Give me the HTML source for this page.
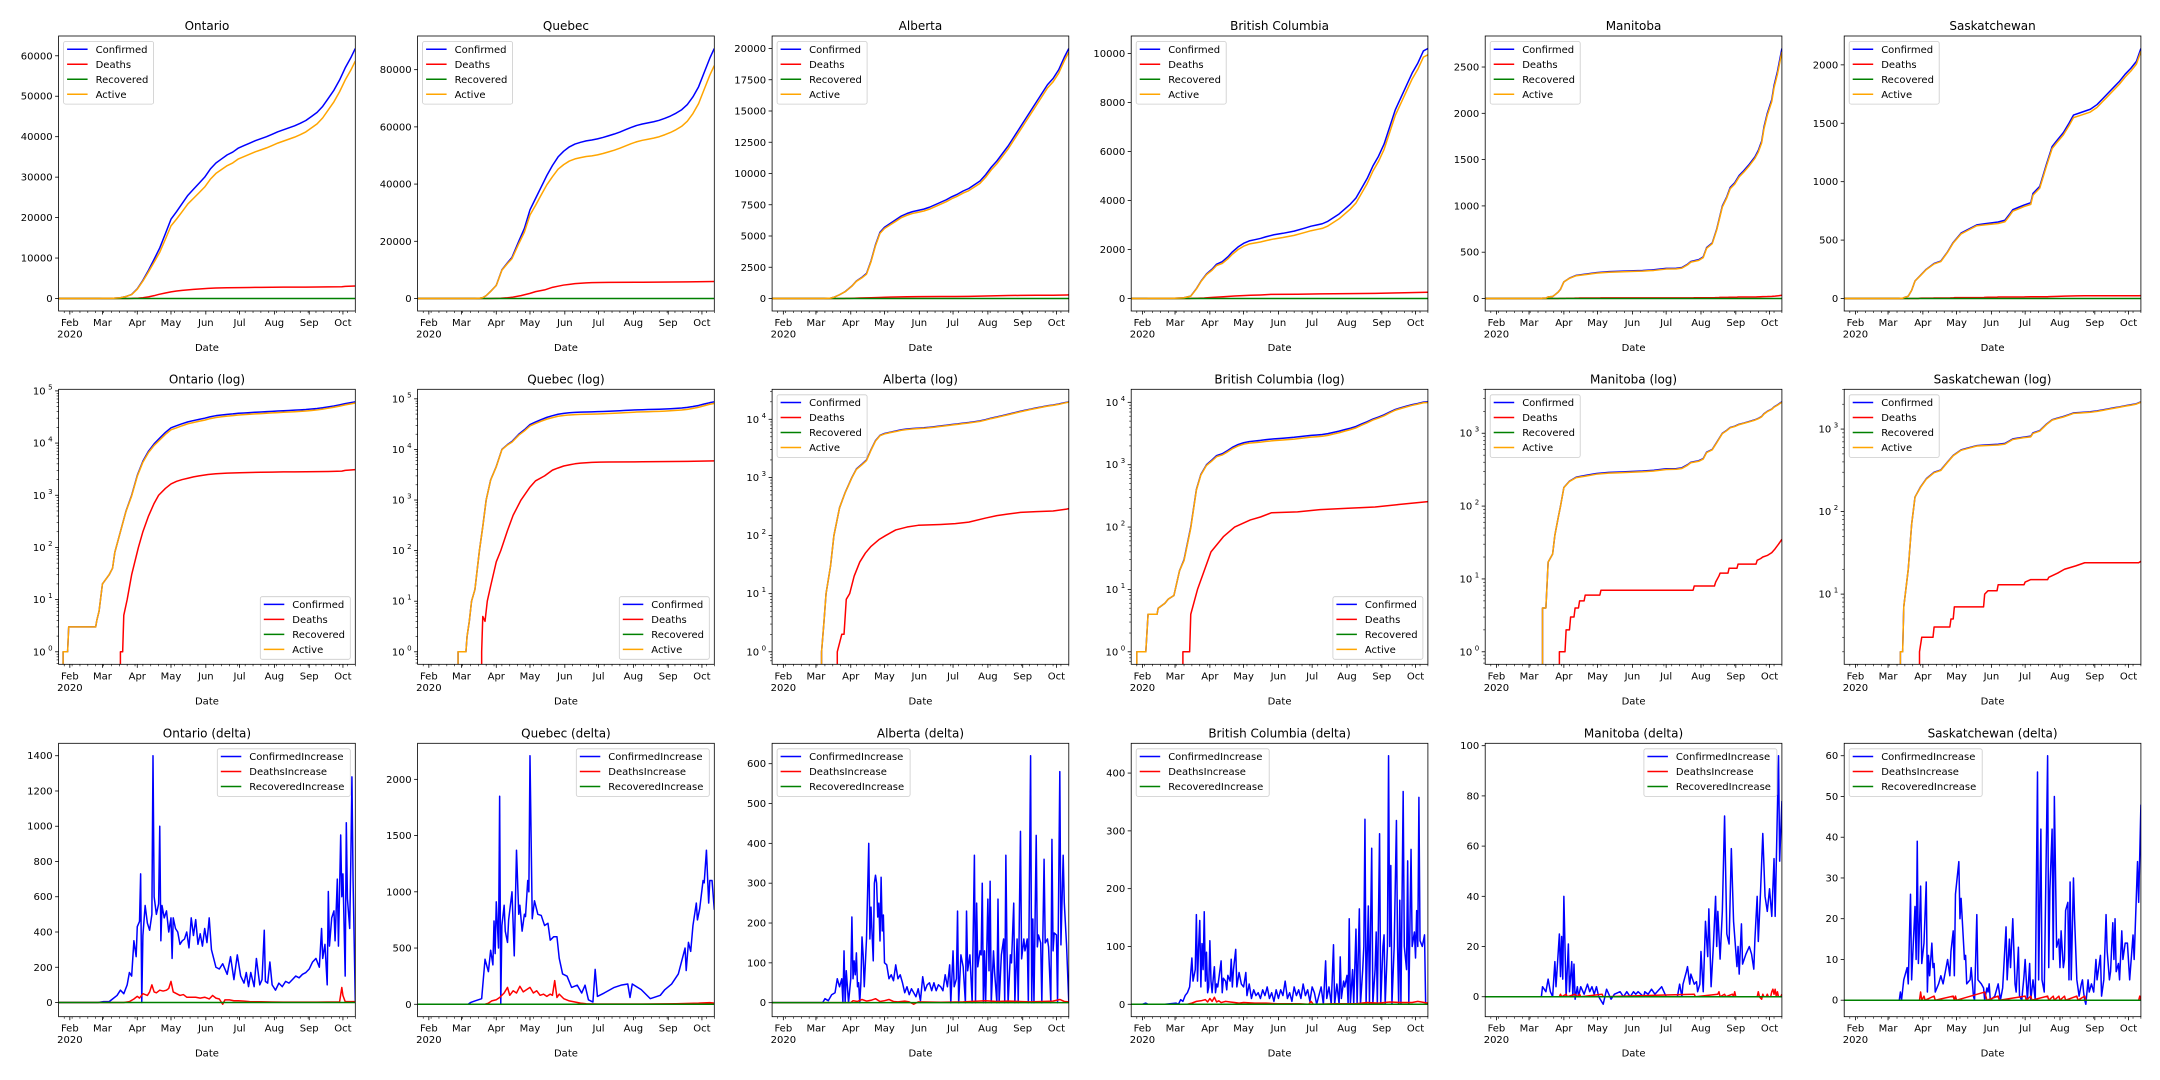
<!DOCTYPE html>
<html><head><meta charset="utf-8"><title>Canada COVID-19 provinces</title>
<style>
html,body{margin:0;padding:0;background:#fff;width:2160px;height:1080px;overflow:hidden;}
svg{display:block;font-family:"DejaVu Sans","Liberation Sans",sans-serif;}
</style></head>
<body>
<svg id="chart" xmlns="http://www.w3.org/2000/svg" width="2160" height="1080" viewBox="0 0 2160 1080">
<rect x="0" y="0" width="2160" height="1080" fill="#ffffff"/>
</svg>
<script>
// ---------- data (day index 0 = 2020-01-22) ----------
const monthDays = [10,39,70,100,131,161,192,223,253];
const monthLabels = ["Feb","Mar","Apr","May","Jun","Jul","Aug","Sep","Oct"];
const provinces = ["Ontario","Quebec","Alberta","British Columbia","Manitoba","Saskatchewan"];
const cumLegend = ["Confirmed","Deaths","Recovered","Active"];
const deltaLegend = ["ConfirmedIncrease","DeathsIncrease","RecoveredIncrease"];

const ontConf = [[0,0],[3,0],[4,1],[8,1],[9,3],[33,3],[34,4],[36,6],[39,20],[45,30],[48,40],[50,80],[55,200],[60,500],[65,1000],[70,2400],[75,4500],[80,7000],[85,9700],[90,12500],[95,16000],[100,19600],[105,21500],[110,23500],[115,25500],[120,27000],[125,28500],[130,30000],[135,32000],[140,33500],[145,34500],[150,35500],[155,36200],[160,37200],[165,37800],[170,38400],[175,39000],[180,39500],[185,40000],[190,40600],[195,41200],[200,41700],[205,42200],[210,42700],[215,43300],[220,44000],[225,45000],[230,46000],[235,47500],[240,49500],[245,51500],[250,54000],[255,57000],[260,59500],[264,61800]];
const ontDeaths = [[0,0],[54,0],[55,1],[57,1],[58,5],[61,10],[65,30],[71,100],[75,200],[80,400],[85,700],[89,1000],[95,1350],[100,1650],[105,1850],[110,2000],[115,2120],[120,2250],[125,2350],[133,2500],[140,2580],[150,2660],[161,2700],[170,2730],[180,2760],[190,2780],[200,2800],[210,2810],[220,2820],[230,2840],[240,2860],[252,2900],[255,3000],[264,3100]];
const queConf = [[0,0],[35,0],[36,1],[43,1],[44,2],[46,4],[48,10],[51,17],[55,100],[58,300],[61,1000],[65,2500],[70,4600],[75,10000],[80,12500],[84,14400],[90,20000],[95,24500],[100,31000],[105,35000],[110,39000],[115,43000],[120,46500],[125,49500],[130,51500],[135,53000],[140,54000],[145,54600],[150,55100],[155,55400],[160,55800],[165,56300],[170,56900],[175,57500],[180,58200],[185,59000],[190,59800],[195,60500],[200,61000],[205,61400],[210,61800],[215,62300],[220,63000],[225,63800],[230,64800],[235,66000],[240,67800],[245,70500],[250,74000],[255,79000],[260,84000],[264,87400]];
const queDeaths = [[0,0],[56,0],[57,1],[58,5],[60,4],[62,10],[65,20],[70,60],[74,100],[80,250],[85,500],[92,1000],[100,1800],[105,2400],[113,3000],[120,3900],[125,4300],[130,4700],[136,5000],[140,5200],[145,5350],[150,5450],[155,5550],[162,5600],[170,5650],[200,5700],[240,5800],[264,5950]];
const albConf = [[0,0],[43,0],[44,1],[46,3],[48,10],[52,30],[55,100],[60,300],[65,550],[71,1000],[75,1400],[80,1700],[84,2000],[88,3000],[92,4300],[96,5300],[100,5700],[105,6000],[110,6300],[115,6600],[120,6800],[125,6950],[130,7050],[135,7150],[140,7300],[145,7500],[150,7700],[155,7900],[160,8150],[165,8350],[170,8600],[175,8800],[180,9100],[185,9400],[190,9900],[195,10500],[200,11000],[205,11600],[210,12200],[215,12900],[220,13600],[225,14300],[230,15000],[235,15700],[240,16400],[245,17100],[250,17600],[255,18300],[260,19300],[264,20000]];
const albDeaths = [[0,0],[57,0],[58,1],[62,2],[64,2],[66,8],[69,10],[73,20],[78,35],[83,50],[88,65],[95,85],[101,100],[110,125],[120,140],[130,150],[150,155],[163,160],[175,170],[190,200],[200,220],[210,235],[221,250],[235,258],[250,265],[262,285],[264,290]];
const bcConf = [[0,0],[4,0],[5,1],[13,1],[14,2],[15,4],[23,4],[24,5],[30,6],[33,7],[38,8],[43,20],[47,30],[53,100],[58,400],[62,700],[67,1000],[72,1200],[76,1400],[81,1500],[86,1700],[90,1900],[95,2100],[100,2250],[105,2350],[110,2400],[115,2450],[120,2520],[127,2600],[135,2660],[145,2750],[155,2880],[160,2950],[165,3000],[170,3050],[175,3150],[180,3300],[185,3450],[190,3650],[195,3850],[200,4100],[205,4500],[210,4900],[215,5400],[220,5800],[225,6300],[230,7000],[235,7700],[240,8200],[245,8700],[250,9200],[255,9600],[260,10100],[264,10200]];
const bcDeaths = [[0,0],[45,0],[46,1],[52,1],[53,4],[59,10],[65,20],[71,40],[82,70],[92,100],[106,130],[115,145],[125,170],[148,175],[168,190],[193,200],[217,210],[238,230],[264,256]];
const manConf = [[0,0],[50,0],[51,4],[54,4],[56,17],[60,22],[62,40],[65,70],[67,100],[70,180],[75,220],[81,250],[90,265],[99,280],[110,290],[120,294],[132,300],[140,303],[150,310],[161,325],[170,327],[175,335],[180,370],[183,400],[190,420],[194,450],[197,550],[202,600],[206,750],[211,1000],[215,1100],[218,1200],[222,1250],[226,1330],[230,1380],[235,1450],[240,1530],[243,1600],[246,1700],[248,1850],[251,2000],[255,2150],[257,2300],[260,2450],[264,2700]];
const manDeaths = [[0,0],[65,0],[66,1],[71,1],[72,2],[75,2],[76,3],[79,3],[80,4],[83,4],[84,5],[88,5],[89,6],[102,6],[103,7],[185,7],[186,8],[204,8],[205,9],[208,11],[209,12],[216,12],[217,14],[224,14],[225,16],[241,16],[242,18],[245,19],[247,20],[251,21],[255,23],[258,26],[261,30],[264,35]];
const saskConf = [[0,0],[49,0],[50,2],[52,2],[53,7],[57,20],[60,70],[63,150],[68,200],[73,250],[80,300],[86,320],[92,400],[97,480],[104,560],[110,590],[118,630],[125,640],[137,655],[143,670],[147,720],[150,760],[155,780],[160,800],[166,820],[168,900],[174,960],[180,1150],[185,1300],[189,1350],[195,1420],[200,1500],[204,1570],[210,1590],[219,1620],[225,1660],[230,1710],[235,1760],[240,1810],[245,1860],[250,1920],[255,1970],[260,2030],[264,2140]];
const saskDeaths = [[0,0],[66,0],[67,2],[69,3],[79,3],[80,4],[94,4],[95,5],[97,5],[98,7],[124,7],[125,10],[128,11],[136,11],[137,13],[160,13],[161,14],[166,15],[181,15],[182,16],[190,18],[196,20],[206,22],[214,24],[262,24],[264,25]];
const recoveredZero = [[0,0],[264,0]];

const ontConfInc = [[0,0],[35,0],[40,5],[45,5],[48,20],[52,40],[55,70],[58,50],[61,100],[63,170],[65,150],[67,350],[69,260],[70,430],[72,460],[73,730],[74,0],[75,380],[77,550],[79,450],[81,410],[83,500],[84,1400],[85,600],[87,500],[89,560],[90,1000],[91,350],[92,550],[94,480],[96,520],[98,400],[100,480],[101,250],[102,480],[104,420],[106,400],[108,330],[110,350],[112,360],[114,400],[116,310],[118,480],[120,380],[122,470],[124,330],[126,390],[128,320],[130,420],[132,340],[134,480],[136,300],[138,250],[140,200],[143,190],[146,220],[150,160],[153,260],[156,130],[159,270],[162,150],[165,110],[167,170],[169,90],[171,170],[174,90],[176,250],[179,100],[181,130],[183,410],[184,120],[186,110],[188,230],[190,100],[193,70],[196,110],[199,90],[202,120],[205,110],[208,130],[211,150],[214,140],[217,160],[220,170],[223,190],[226,230],[229,250],[232,200],[234,420],[235,250],[237,330],[239,100],[240,630],[241,320],[243,480],[245,520],[246,350],[248,700],[249,320],[251,950],[252,600],[253,730],[255,150],[256,1020],[257,590],[259,420],[260,800],[261,1280],[262,700],[264,0]];
const ontDeathInc = [[0,0],[58,0],[63,5],[67,20],[70,35],[72,25],[75,50],[79,40],[81,60],[83,100],[85,60],[87,55],[90,70],[93,65],[96,70],[98,80],[100,120],[102,60],[105,50],[108,40],[111,45],[114,30],[118,30],[122,30],[126,25],[130,30],[134,20],[137,40],[140,25],[143,20],[146,-10],[148,15],[152,15],[156,10],[160,10],[165,8],[170,5],[180,4],[190,3],[200,2],[230,2],[240,3],[250,3],[252,85],[253,40],[255,5],[264,5]];
const queConfInc = [[0,0],[45,0],[47,15],[51,30],[57,50],[60,400],[63,290],[65,480],[67,350],[68,740],[69,450],[70,910],[72,500],[73,1850],[74,0],[75,700],[77,880],[78,650],[80,550],[81,750],[84,1000],[86,430],[88,1370],[90,800],[91,880],[93,650],[95,800],[96,780],[98,1100],[99,1000],[100,2210],[102,760],[104,920],[107,800],[110,790],[113,700],[116,720],[118,570],[121,600],[124,600],[126,410],[129,270],[133,250],[137,150],[142,170],[146,100],[149,170],[152,40],[156,20],[158,310],[160,70],[166,100],[175,150],[181,170],[187,180],[189,60],[191,180],[199,130],[207,50],[216,80],[220,130],[226,180],[232,270],[238,500],[239,300],[241,550],[243,470],[245,700],[248,900],[249,750],[251,850],[254,1100],[255,1080],[257,1370],[259,900],[260,1100],[262,1100],[264,840]];
const queDeathInc = [[0,0],[60,0],[63,10],[66,30],[70,40],[73,60],[77,100],[80,150],[82,80],[85,120],[88,100],[91,160],[94,110],[97,130],[100,150],[103,100],[106,120],[109,80],[112,90],[115,70],[118,90],[120,80],[122,210],[124,60],[126,90],[130,50],[135,30],[140,20],[145,10],[150,5],[160,3],[200,3],[230,5],[250,10],[260,15],[264,10]];
const albConfInc = [[0,0],[45,0],[47,10],[50,5],[53,20],[56,25],[58,60],[60,40],[62,60],[63,0],[64,130],[65,0],[66,80],[67,40],[68,0],[70,60],[71,215],[72,60],[73,105],[74,70],[75,125],[76,40],[77,50],[78,0],[79,50],[80,165],[81,120],[82,40],[84,160],[86,400],[87,160],[88,240],[89,170],[90,105],[91,300],[92,320],[93,300],[94,215],[95,250],[96,155],[97,315],[98,180],[99,220],[100,100],[102,95],[104,60],[106,70],[108,55],[110,95],[112,60],[114,70],[116,50],[118,25],[120,40],[122,20],[124,35],[126,25],[128,15],[130,35],[132,5],[134,65],[136,30],[138,45],[140,50],[142,30],[144,50],[146,30],[148,45],[150,40],[152,30],[154,70],[156,40],[158,95],[159,0],[161,130],[162,40],[164,60],[165,230],[166,0],[168,120],[170,90],[172,0],[173,230],[174,80],[176,120],[178,0],[180,370],[181,0],[182,250],[183,90],[185,130],[186,120],[187,300],[188,0],[189,130],[190,0],[192,260],[193,80],[194,305],[195,0],[197,130],[198,75],[200,0],[201,260],[202,0],[204,120],[206,160],[207,0],[208,370],[209,130],[210,0],[212,120],[213,100],[215,250],[216,0],[218,160],[219,0],[221,430],[222,110],[224,160],[225,130],[227,160],[228,0],[230,620],[231,0],[232,210],[233,0],[235,420],[236,140],[237,170],[239,150],[240,0],[242,360],[243,150],[245,160],[246,140],[248,0],[249,410],[250,130],[251,175],[253,170],[254,0],[256,580],[257,145],[259,370],[260,250],[262,145],[264,0]];
const albDeathInc = [[0,0],[70,0],[72,5],[76,3],[80,8],[84,4],[88,6],[92,10],[96,3],[100,5],[104,8],[108,3],[112,2],[118,4],[122,2],[126,-4],[130,2],[150,1],[170,2],[190,5],[200,3],[210,4],[220,3],[230,2],[240,3],[250,4],[256,8],[260,3],[264,2]];
const bcConfInc = [[0,0],[10,0],[13,2],[15,0],[30,0],[40,2],[42,0],[44,8],[46,5],[48,15],[50,20],[52,30],[54,80],[55,40],[57,60],[58,155],[59,40],[60,100],[61,145],[62,30],[63,105],[64,60],[65,160],[66,40],[67,90],[68,20],[69,30],[70,110],[71,40],[72,20],[73,45],[74,65],[75,20],[76,35],[77,30],[78,45],[80,75],[81,20],[82,45],[84,40],[85,25],[86,50],[88,40],[89,78],[90,30],[91,60],[93,95],[94,30],[96,55],[98,35],[100,30],[102,55],[103,15],[105,35],[107,10],[109,25],[111,15],[113,20],[115,10],[117,25],[119,15],[121,30],[123,10],[125,20],[127,5],[129,25],[131,10],[133,25],[135,15],[137,40],[139,10],[141,20],[143,5],[145,30],[147,15],[149,25],[151,10],[153,35],[155,15],[157,25],[159,5],[161,30],[163,20],[165,0],[167,15],[169,30],[171,0],[173,75],[174,10],[176,30],[178,0],[180,103],[181,0],[183,35],[185,0],[186,82],[187,10],[189,40],[190,30],[192,50],[193,0],[194,148],[195,0],[197,60],[198,0],[200,130],[201,0],[203,165],[204,0],[206,60],[207,100],[208,320],[209,0],[211,170],[212,0],[214,270],[215,0],[217,60],[218,125],[219,0],[221,295],[222,0],[224,100],[225,120],[226,0],[228,100],[229,430],[230,100],[231,240],[232,0],[234,100],[236,318],[237,100],[238,0],[239,180],[240,0],[242,368],[243,100],[245,60],[246,248],[247,0],[249,268],[250,100],[252,125],[253,80],[254,162],[255,100],[256,358],[257,110],[259,100],[261,120],[262,0],[264,0]];
const bcDeathInc = [[0,0],[50,0],[54,2],[58,5],[62,6],[66,8],[68,4],[70,10],[72,5],[74,12],[76,4],[78,6],[80,3],[84,5],[88,4],[92,3],[96,2],[100,3],[110,2],[120,2],[130,1],[150,1],[158,0],[160,5],[162,0],[180,1],[200,1],[210,3],[220,2],[230,4],[240,3],[250,3],[255,5],[264,2]];
const manConfInc = [[0,0],[50,0],[51,4],[54,2],[56,7],[58,2],[60,0],[62,14],[63,4],[66,25],[67,8],[68,24],[69,7],[70,40],[72,0],[74,21],[75,2],[77,14],[78,0],[79,13],[80,-1],[82,4],[83,0],[85,4],[88,1],[91,5],[93,2],[95,4],[97,1],[99,4],[101,0],[105,-3],[108,3],[112,-1],[115,1],[120,2],[123,0],[126,2],[129,0],[132,2],[134,1],[136,2],[141,0],[142,2],[145,1],[148,3],[151,1],[153,2],[157,4],[161,0],[171,0],[173,5],[175,0],[176,5],[179,10],[180,12],[182,5],[183,9],[186,5],[188,6],[189,2],[191,5],[192,18],[194,2],[196,30],[198,16],[199,35],[201,4],[203,20],[205,40],[206,20],[207,34],[209,15],[211,34],[213,72],[215,25],[217,21],[219,59],[221,30],[224,12],[225,20],[226,9],[228,29],[229,13],[232,17],[235,20],[237,17],[239,11],[240,23],[242,40],[243,22],[245,42],[247,65],[249,40],[251,34],[253,43],[255,32],[257,55],[258,32],[261,96],[262,54],[264,78]];
const manDeathInc = [[0,0],[66,0],[67,1],[68,0],[72,1],[73,0],[80,1],[82,0],[84,1],[85,0],[104,1],[105,0],[186,1],[187,0],[207,1],[208,2],[209,0],[213,1],[214,0],[220,1],[221,0],[222,2],[223,0],[242,0],[243,2],[244,0],[246,-1],[247,1],[248,0],[250,0],[251,1],[252,0],[254,0],[255,2],[256,3],[257,1],[258,3],[259,0],[260,2],[261,0],[263,0],[264,1]];
const saskConfInc = [[0,0],[49,0],[50,2],[51,0],[53,5],[56,8],[57,4],[59,26],[60,5],[63,23],[64,10],[65,39],[66,9],[68,28],[69,9],[71,14],[73,29],[74,2],[75,11],[76,6],[78,14],[79,8],[80,9],[81,2],[84,4],[86,6],[88,4],[92,10],[94,6],[95,12],[97,17],[98,6],[99,26],[102,34],[103,20],[104,25],[107,10],[108,11],[109,4],[112,5],[113,8],[115,1],[116,0],[118,21],[119,5],[122,4],[124,3],[125,0],[127,3],[128,2],[129,4],[130,0],[134,1],[137,4],[139,0],[141,3],[144,18],[145,5],[147,15],[148,8],[150,20],[152,4],[153,2],[155,13],[156,1],[158,0],[160,6],[161,10],[163,0],[165,9],[166,0],[168,5],[170,0],[172,56],[173,5],[175,42],[176,5],[178,2],[181,60],[182,8],[183,27],[185,42],[186,10],[187,50],[189,13],[191,15],[192,8],[193,17],[195,8],[196,10],[197,22],[199,24],[200,5],[201,29],[202,5],[204,30],[205,20],[207,5],[209,1],[211,4],[212,5],[213,2],[214,0],[215,-1],[217,5],[218,2],[220,4],[222,2],[224,10],[225,5],[228,11],[229,1],[231,5],[233,21],[234,12],[236,5],[237,7],[239,19],[240,10],[241,20],[242,7],[244,9],[245,5],[247,17],[248,10],[250,14],[252,14],[254,5],[257,16],[258,10],[261,34],[262,24],[264,48]];
const saskDeathInc = [[0,0],[67,0],[68,2],[69,0],[71,1],[72,0],[80,1],[81,0],[97,1],[98,0],[99,1],[100,0],[125,2],[126,1],[127,0],[137,1],[138,0],[161,1],[162,0],[166,1],[167,0],[181,1],[182,0],[186,1],[187,0],[191,1],[192,0],[196,1],[197,0],[207,1],[208,0],[214,1],[215,0],[262,0],[263,1],[264,0]];

const linTicks = [[0,10000,20000,30000,40000,50000,60000],[0,20000,40000,60000,80000],[0,2500,5000,7500,10000,12500,15000,17500,20000],[0,2000,4000,6000,8000,10000],[0,500,1000,1500,2000,2500],[0,500,1000,1500,2000]];
const deltaTicks = [[0,200,400,600,800,1000,1200,1400],[0,500,1000,1500,2000],[0,100,200,300,400,500,600],[0,100,200,300,400],[0,20,40,60,80,100],[0,10,20,30,40,50,60]];

// ---------- layout ----------
const LEFTS = [58.6,417.6,772.1,1131.2,1485.2,1844.2];
const PW = 296.7;
const TOPS = [36,389.3,743.3];
const PH = [275,275,273.4];
const X0 = 0, X1 = 264;
const NS = "http://www.w3.org/2000/svg";
const svg = document.getElementById("chart");
const COLORS = {Confirmed:"#0000ff",Deaths:"#ff0000",Recovered:"#008000",Active:"#ffa500",ConfirmedIncrease:"#0000ff",DeathsIncrease:"#ff0000",RecoveredIncrease:"#008000"};

function mk(tag, parent){ const e = document.createElementNS(NS, tag); parent.appendChild(e); return e; }
function at(e, o){ for (const k in o) e.setAttribute(k, o[k]); return e; }
function slug(s){ return s.toLowerCase().replace(/[^a-z0-9]+/g,"-").replace(/^-|-$/g,""); }
function valueAt(pts, d){
  if (d <= pts[0][0]) return pts[0][1];
  for (let i=1;i<pts.length;i++){
    if (d <= pts[i][0]){ const a=pts[i-1], b=pts[i]; return a[1] + (b[1]-a[1])*(d-a[0])/(b[0]-a[0]); }
  }
  return pts[pts.length-1][1];
}
function activeFrom(conf, deaths){ return conf.map(p => [p[0], Math.max(0, p[1] - valueAt(deaths, p[0]))]); }

let clipId = 0;
function panel(col, row, title, kind, series, yTicks, legendPos, legendW){
  const L = LEFTS[col], T = TOPS[row], W = PW, H = PH[row];
  const g = mk("g", svg);
  
  
  let vals = [];
  series.forEach(s => s.pts.forEach(p => vals.push(p[1])));
  let lo, hi, fy;
  if (kind === "log"){
    const pos = vals.filter(v => v > 0);
    const a = Math.log10(Math.min(...pos)), b = Math.log10(Math.max(...pos));
    const pd = (b-a)*0.05; lo = a-pd; hi = b+pd;
    fy = v => T + H - (Math.log10(v)-lo)/(hi-lo)*H;
  } else {
    const a = Math.min(...vals), b = Math.max(...vals);
    const pd = (b-a)*0.05; lo = a-pd; hi = b+pd;
    fy = v => T + H - (v-lo)/(hi-lo)*H;
  }
  const fx = d => L + (d-X0)/(X1-X0)*W;
  const below = T + H + 5;

  const cid = "clip" + (clipId++);
  const cp = mk("clipPath", g); cp.setAttribute("id", cid);
  at(mk("rect", cp), {x:L, y:T, width:W, height:H});

  series.forEach(s => {
    if (kind === "log" && !s.pts.some(p => p[1] > 0)) return;
    const path = mk("path", g);
    
    
    let dstr = "";
    if (kind === "log"){
      let pen = false;
      const P = s.pts;
      for (let i=0;i<P.length;i++){
        const v = P[i][1];
        if (v > 0){
          dstr += (pen ? "L" : "M") + fx(P[i][0]).toFixed(2) + "," + fy(v).toFixed(2) + " ";
          pen = true;
        } else {
          if (pen){ dstr += "L" + fx(P[i-1][0]).toFixed(2) + "," + below + " "; pen = false; }
          if (i+1 < P.length && P[i+1][1] > 0){ dstr += "M" + fx(P[i+1][0]).toFixed(2) + "," + below + " "; pen = true; }
        }
      }
    } else {
      dstr = s.pts.map((p,i) => (i?"L":"M") + fx(p[0]).toFixed(2) + "," + fy(p[1]).toFixed(2)).join(" ");
    }
    at(path, {d:dstr, fill:"none", stroke:COLORS[s.name], "stroke-width":1.5, "stroke-linejoin":"round", "clip-path":"url(#"+cid+")"});
  });

  const fr = mk("rect", g);
  
  
  at(fr, {x:L, y:T, width:W, height:H, fill:"none", stroke:"#000", "stroke-width":0.8});

  const tt = mk("text", g);
  
  
  at(tt, {x:L+W/2, y:T-6, "text-anchor":"middle", "font-size":12, fill:"#000"});
  tt.textContent = title;

  const B = T + H;
  for (let d = 5; d <= X1; d += 7){
    if (monthDays.some(m => Math.abs(m-d) < 1)) continue;
    at(mk("line", g), {x1:fx(d), x2:fx(d), y1:B, y2:B+2, stroke:"#000", "stroke-width":0.6});
  }
  monthDays.forEach((m,i) => {
    at(mk("line", g), {x1:fx(m), x2:fx(m), y1:B, y2:B+3.5, stroke:"#000", "stroke-width":0.8});
    const lb = mk("text", g);
    
    
    at(lb, {x:fx(m), y:B+15, "text-anchor":"middle", "font-size":10, fill:"#000"});
    lb.textContent = monthLabels[i];
  });
  const yr = mk("text", g);
  
  
  at(yr, {x:fx(monthDays[0]), y:B+26.5, "text-anchor":"middle", "font-size":10, fill:"#000"});
  yr.textContent = "2020";
  const xt = mk("text", g);
  
  
  at(xt, {x:L+W/2, y:B+40, "text-anchor":"middle", "font-size":10, fill:"#000"});
  xt.textContent = "Date";

  if (kind === "log"){
    for (let e = Math.floor(lo); e <= Math.floor(hi); e++){
      for (let m = 2; m <= 9; m++){
        const l = e + Math.log10(m);
        if (l < lo || l > hi) continue;
        const y = T + H - (l-lo)/(hi-lo)*H;
        at(mk("line", g), {x1:L-2, x2:L, y1:y, y2:y, stroke:"#000", "stroke-width":0.6});
      }
    }
    for (let e = Math.ceil(lo); e <= Math.floor(hi); e++){
      const y = T + H - (e-lo)/(hi-lo)*H;
      at(mk("line", g), {x1:L-3.5, x2:L, y1:y, y2:y, stroke:"#000", "stroke-width":0.8});
      const lb = mk("text", g);
      
      
      at(lb, {x:L-13, y:y+3.5, "text-anchor":"end", "font-size":10, fill:"#000"});
      lb.textContent = "10";
      const sp = mk("tspan", lb);
      at(sp, {x:L-6, dy:-5, "font-size":7, "text-anchor":"end"});
      sp.textContent = String(e);
    }
  } else {
    yTicks.forEach(v => {
      const y = fy(v);
      at(mk("line", g), {x1:L-3.5, x2:L, y1:y, y2:y, stroke:"#000", "stroke-width":0.8});
      const lb = mk("text", g);
      
      
      at(lb, {x:L-6, y:y+3.5, "text-anchor":"end", "font-size":10, fill:"#000"});
      lb.textContent = String(v);
    });
  }

  const names = series.map(s => s.name);
  const lh = names.length*15 + 2.6;
  let lx, ly;
  if (legendPos === "ul"){ lx = L+5; ly = T+5.5; }
  else if (legendPos === "ur"){ lx = L+W-5-legendW; ly = T+5.5; }
  else { lx = L+W-5-legendW; ly = T+H-5-lh; }
  const lg = mk("g", g);
  
  
  at(mk("rect", lg), {x:lx, y:ly, width:legendW, height:lh, rx:2, fill:"#fff", "fill-opacity":0.8, stroke:"#cccccc", "stroke-width":0.8});
  names.forEach((n,i) => {
    const cy = ly + 7.7 + i*15;
    const en = mk("g", lg);
    
    
    at(mk("line", en), {x1:lx+3.5, x2:lx+24, y1:cy, y2:cy, stroke:COLORS[n], "stroke-width":1.5});
    const tx = mk("text", en);
    at(tx, {x:lx+32, y:cy+3.6, "font-size":10, fill:"#000"});
    tx.textContent = n;
  });
}

const cumData = [[ontConf,ontDeaths],[queConf,queDeaths],[albConf,albDeaths],[bcConf,bcDeaths],[manConf,manDeaths],[saskConf,saskDeaths]];
const deltaData = [[ontConfInc,ontDeathInc],[queConfInc,queDeathInc],[albConfInc,albDeathInc],[bcConfInc,bcDeathInc],[manConfInc,manDeathInc],[saskConfInc,saskDeathInc]];
const logLegendPos = ["lr","lr","ul","lr","ul","ul"];
const deltaLegendPos = ["ur","ur","ul","ul","ur","ul"];

provinces.forEach((p,i) => {
  const conf = cumData[i][0], deaths = cumData[i][1];
  const act = activeFrom(conf, deaths);
  const cs = [{name:"Confirmed",pts:conf},{name:"Deaths",pts:deaths},{name:"Recovered",pts:recoveredZero},{name:"Active",pts:act}];
  panel(i, 0, p, "lin", cs, linTicks[i], "ul", 90);
  panel(i, 1, p + " (log)", "log", cs, null, logLegendPos[i], 90);
  const ds = [{name:"ConfirmedIncrease",pts:deltaData[i][0]},{name:"DeathsIncrease",pts:deltaData[i][1]},{name:"RecoveredIncrease",pts:recoveredZero}];
  panel(i, 2, p + " (delta)", "lin", ds, deltaTicks[i], deltaLegendPos[i], 133);
});
</script>
</body></html>
